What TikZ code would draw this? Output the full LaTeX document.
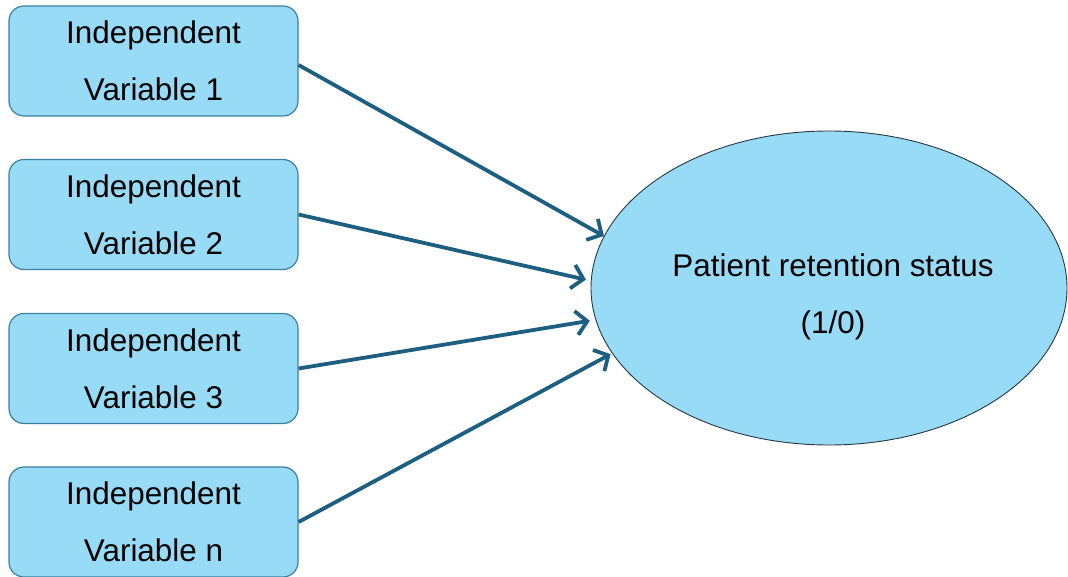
\documentclass[tikz,border=0pt]{standalone}
\usepackage{fontspec}
\setmainfont{Liberation Sans}
\usetikzlibrary{shapes.geometric,arrows.meta}
\definecolor{fillblue}{RGB}{151,219,246}
\definecolor{boxedge}{RGB}{58,128,160}
\definecolor{elledge}{RGB}{40,55,65}
\definecolor{arrowblue}{RGB}{28,95,128}
\tikzset{
  varbox/.style={draw=boxedge, line width=1.2pt, fill=fillblue, rounded corners=15pt,
    minimum width=289pt, minimum height=110pt, inner sep=0pt, align=center,
    font=\fontsize{31.4pt}{57pt}\selectfont},
  outcome/.style={ellipse, draw=elledge, line width=0.9pt, fill=fillblue,
    minimum width=476pt, minimum height=314pt, inner sep=0pt},
  outtext/.style={align=center, font=\fontsize{31.4pt}{57pt}\selectfont},
  link/.style={draw=arrowblue, line width=3.8pt,
    -{Straight Barb[length=11pt, width=24pt, line width=3.8pt]}}
}
\begin{document}
\begin{tikzpicture}[x=1pt, y=-1pt]
\useasboundingbox (0,0) rectangle (1068,577);
\node[varbox] (b1) at (153.5,61) {Independent\\Variable 1};
\node[varbox] (b2) at (153.5,214.5) {Independent\\Variable 2};
\node[varbox] (b3) at (153.5,368.5) {Independent\\Variable 3};
\node[varbox] (b4) at (153.5,522) {Independent\\Variable n};
\node[outcome] (e) at (829,288) {};
\node[outtext] (et) at (833,297) {Patient retention status\\(1/0)};
\draw[link] ([yshift=-4pt]b1.east) -- (e.167.5);
\draw[link] (b2.east) -- ([xshift=-5pt]e.178.3);
\draw[link] (b3.east) -- ([xshift=-6pt]e.188.8);
\draw[link] (b4.east) -- ([xshift=-2pt]e.197.6);
\end{tikzpicture}
\end{document}
